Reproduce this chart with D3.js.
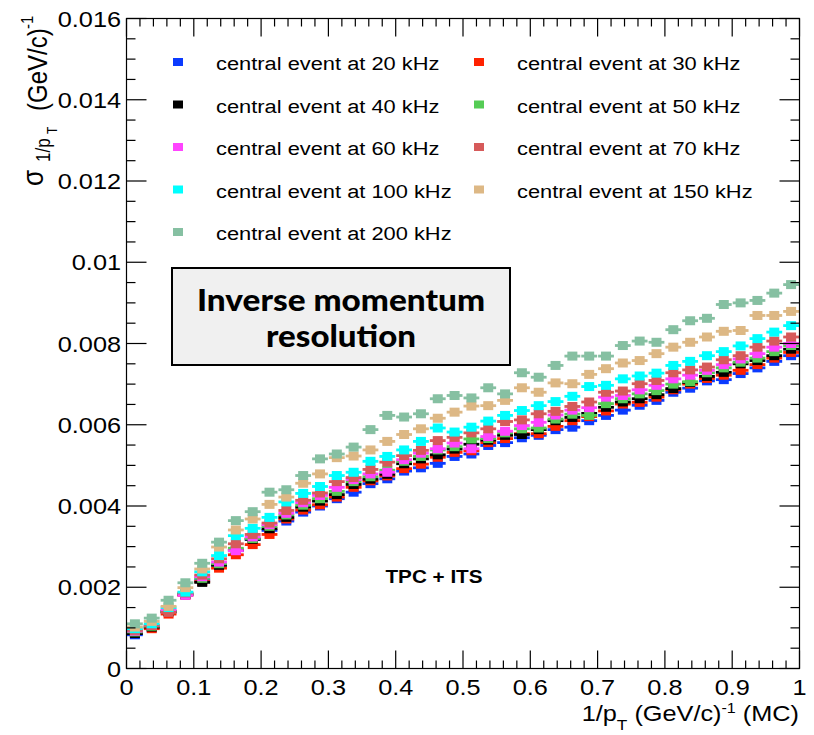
<!DOCTYPE html>
<html>
<head>
<meta charset="utf-8">
<script src="https://cdn.jsdelivr.net/npm/d3@7"></script>
<style>
  body { margin: 0; background: #ffffff; }
  svg text { font-family: "Liberation Sans", Arial, Helvetica, sans-serif; }
  svg text.box { font-family: Lato, "Open Sans", sans-serif; font-weight: 900; }
</style>
</head>
<body>
<svg id="chart" width="814" height="735"></svg>
<script>
// 1/pT bins (GeV/c)^-1: 40 bins of width 0.025
const binCenters = [0.0125,0.0375,0.0625,0.0875,0.1125,0.1375,0.1625,0.1875,0.2125,0.2375,
  0.2625,0.2875,0.3125,0.3375,0.3625,0.3875,0.4125,0.4375,0.4625,0.4875,
  0.5125,0.5375,0.5625,0.5875,0.6125,0.6375,0.6625,0.6875,0.7125,0.7375,
  0.7625,0.7875,0.8125,0.8375,0.8625,0.8875,0.9125,0.9375,0.9625,0.9875];
const binHalfWidth = 0.0125;

// sigma(1/pT) per interaction rate
const rate20  = [0.00083,0.00100,0.00140,0.00182,0.00218,0.00255,0.00290,0.00318,0.00340,0.00363,0.00385,0.00400,0.00418,0.00434,0.00455,0.00467,0.00486,0.00494,0.00505,0.00522,0.00528,0.00549,0.00556,0.00568,0.00574,0.00588,0.00594,0.00610,0.00623,0.00636,0.00648,0.00660,0.00680,0.00690,0.00708,0.00711,0.00726,0.00740,0.00756,0.00770];
const rate30  = [0.00088,0.00098,0.00134,0.00180,0.00214,0.00247,0.00280,0.00305,0.00330,0.00368,0.00390,0.00403,0.00422,0.00446,0.00462,0.00474,0.00492,0.00503,0.00520,0.00532,0.00536,0.00556,0.00566,0.00578,0.00578,0.00596,0.00610,0.00620,0.00634,0.00651,0.00655,0.00668,0.00686,0.00700,0.00714,0.00722,0.00734,0.00748,0.00764,0.00778];
const rate40  = [0.00086,0.00102,0.00140,0.00183,0.00212,0.00254,0.00292,0.00318,0.00344,0.00372,0.00397,0.00412,0.00428,0.00453,0.00466,0.00478,0.00504,0.00516,0.00526,0.00540,0.00552,0.00562,0.00574,0.00576,0.00588,0.00610,0.00618,0.00628,0.00643,0.00656,0.00664,0.00674,0.00689,0.00704,0.00719,0.00729,0.00750,0.00758,0.00770,0.00786];
const rate50  = [0.00090,0.00104,0.00142,0.00184,0.00222,0.00258,0.00296,0.00320,0.00350,0.00378,0.00402,0.00418,0.00436,0.00460,0.00472,0.00488,0.00510,0.00522,0.00538,0.00546,0.00565,0.00566,0.00580,0.00590,0.00592,0.00614,0.00626,0.00623,0.00652,0.00664,0.00676,0.00684,0.00700,0.00706,0.00728,0.00740,0.00754,0.00764,0.00780,0.00795];
const rate60  = [0.00092,0.00106,0.00145,0.00180,0.00226,0.00262,0.00290,0.00324,0.00354,0.00382,0.00408,0.00426,0.00446,0.00465,0.00479,0.00483,0.00514,0.00530,0.00541,0.00555,0.00541,0.00571,0.00584,0.00598,0.00606,0.00624,0.00636,0.00642,0.00668,0.00672,0.00686,0.00697,0.00713,0.00722,0.00734,0.00748,0.00762,0.00775,0.00791,0.00800];
const rate70  = [0.00094,0.00106,0.00138,0.00186,0.00230,0.00270,0.00307,0.00330,0.00358,0.00389,0.00414,0.00432,0.00460,0.00470,0.00490,0.00508,0.00524,0.00537,0.00561,0.00569,0.00580,0.00590,0.00608,0.00612,0.00627,0.00633,0.00645,0.00656,0.00680,0.00683,0.00701,0.00709,0.00728,0.00735,0.00742,0.00760,0.00770,0.00791,0.00806,0.00816];
const rate100 = [0.00098,0.00110,0.00150,0.00188,0.00238,0.00278,0.00327,0.00345,0.00372,0.00410,0.00431,0.00448,0.00475,0.00483,0.00510,0.00522,0.00538,0.00559,0.00592,0.00582,0.00594,0.00609,0.00623,0.00635,0.00647,0.00657,0.00670,0.00694,0.00697,0.00713,0.00720,0.00727,0.00746,0.00756,0.00770,0.00780,0.00794,0.00812,0.00828,0.00844];
const rate150 = [0.00102,0.00116,0.00153,0.00199,0.00245,0.00299,0.00341,0.00368,0.00404,0.00422,0.00456,0.00479,0.00519,0.00523,0.00538,0.00559,0.00576,0.00590,0.00616,0.00631,0.00646,0.00647,0.00660,0.00691,0.00680,0.00703,0.00701,0.00724,0.00738,0.00752,0.00758,0.00775,0.00791,0.00803,0.00816,0.00830,0.00832,0.00869,0.00869,0.00879];
const rate200 = [0.00110,0.00124,0.00168,0.00211,0.00259,0.00311,0.00364,0.00386,0.00434,0.00440,0.00475,0.00516,0.00528,0.00545,0.00588,0.00623,0.00619,0.00627,0.00664,0.00672,0.00666,0.00691,0.00676,0.00728,0.00717,0.00746,0.00769,0.00769,0.00769,0.00795,0.00806,0.00803,0.00834,0.00856,0.00862,0.00896,0.00900,0.00906,0.00924,0.00945];

const seriesNames = ["central event at 20 kHz","central event at 30 kHz","central event at 40 kHz",
  "central event at 50 kHz","central event at 60 kHz","central event at 70 kHz",
  "central event at 100 kHz","central event at 150 kHz","central event at 200 kHz"];
const seriesValues = [rate20, rate30, rate40, rate50, rate60, rate70, rate100, rate150, rate200];
const seriesColors = ["#0b3bff","#ff2200","#000000","#55cc55","#ff44ff","#d65a5a","#00ffff","#ddb885","#86c0a2"];

const xTickLabels = ["0","0.1","0.2","0.3","0.4","0.5","0.6","0.7","0.8","0.9","1"];
const yTickLabels = ["0","0.002","0.004","0.006","0.008","0.01","0.012","0.014","0.016"];

const svg = d3.select("#chart");
const frame = { left: 126.5, right: 799.5, top: 18.5, bottom: 668.5 };
const SX = 1.15; // horizontal glyph stretch of the ROOT-style lettering

const x = d3.scaleLinear().domain([0, 1]).range([frame.left, frame.right]);
const y = d3.scaleLinear().domain([0, 0.016]).range([frame.bottom, frame.top]);

// helper: text stretched horizontally around its anchor point
function label(px, py, str, opts = {}) {
  const g = svg.append("g").attr("transform", `translate(${px},${py}) scale(${SX},1)`);
  const t = g.append("text")
    .attr("text-anchor", opts.anchor || "start")
    .attr("font-size", opts.size || 21)
    .attr("font-weight", opts.weight || "normal")
    .attr("fill", "#000")
    .text(str);
  return t;
}

// ----- data markers -----
const plot = svg.append("g");
seriesValues.forEach((vals, si) => {
  const col = seriesColors[si];
  const g = plot.append("g");
  g.selectAll("line.eb").data(vals).join("line")
    .attr("x1", (d, i) => x(binCenters[i] - binHalfWidth) + 0.5)
    .attr("x2", (d, i) => x(binCenters[i] + binHalfWidth) - 0.5)
    .attr("y1", d => y(d)).attr("y2", d => y(d))
    .attr("stroke", col).attr("stroke-width", 2.8);
  g.selectAll("rect").data(vals).join("rect")
    .attr("x", (d, i) => x(binCenters[i]) - 5)
    .attr("y", d => y(d) - 4.5)
    .attr("width", 10).attr("height", 9)
    .attr("fill", col);
});

// ----- frame and ticks -----
const axes = svg.append("g").attr("stroke", "#000").attr("stroke-width", 1.2);
axes.append("rect")
  .attr("x", frame.left).attr("y", frame.top)
  .attr("width", frame.right - frame.left).attr("height", frame.bottom - frame.top)
  .attr("fill", "none");

const xMajor = d3.range(0, 11).map(i => i / 10);
const xMinor = d3.range(0, 51).map(i => i / 50);
const yMajor = d3.range(0, 9).map(i => i * 0.002);
const yMinor = d3.range(0, 33).map(i => i * 0.0005);

xMinor.forEach(v => {
  const major = Math.abs(v * 10 - Math.round(v * 10)) < 1e-6;
  const len = major ? 18 : 8;
  axes.append("line").attr("x1", x(v)).attr("x2", x(v))
    .attr("y1", frame.bottom).attr("y2", frame.bottom - len);
  axes.append("line").attr("x1", x(v)).attr("x2", x(v))
    .attr("y1", frame.top).attr("y2", frame.top + len);
});
yMinor.forEach(v => {
  const major = Math.abs(v / 0.002 - Math.round(v / 0.002)) < 1e-6;
  const len = major ? 20 : 9;
  axes.append("line").attr("y1", y(v)).attr("y2", y(v))
    .attr("x1", frame.left).attr("x2", frame.left + len);
  axes.append("line").attr("y1", y(v)).attr("y2", y(v))
    .attr("x1", frame.right).attr("x2", frame.right - len);
});

// tick labels
xMajor.forEach((v, i) => label(x(v), 695, xTickLabels[i], { anchor: "middle", size: 22 }));
yMajor.forEach((v, i) => label(121, y(v) + 8, yTickLabels[i], { anchor: "end", size: 22 }));

// ----- axis titles -----
// x title: 1/p_T (GeV/c)^-1 (MC)
{
  const g = svg.append("g").attr("transform", `translate(799,721) scale(${SX},1)`);
  const t = g.append("text").attr("text-anchor", "end").attr("font-size", 22).attr("fill", "#000");
  t.append("tspan").text("1/p");
  t.append("tspan").attr("font-size", 15).attr("dy", 9).text("T");
  t.append("tspan").attr("dy", -9).text(" (GeV/c)");
  t.append("tspan").attr("font-size", 14).attr("dy", -8).text("-1");
  t.append("tspan").attr("dy", 8).text(" (MC)");
}
// y title: sigma_{1/p_T} (GeV/c)^-1, rotated
{
  const g = svg.append("g").attr("transform", `scale(${SX},1) rotate(-90)`);
  const t = g.append("text").attr("fill", "#000");
  t.append("tspan").attr("x", -186).attr("y", 43 / SX).attr("font-size", 26).text("σ");
  t.append("tspan").attr("x", -162).attr("y", 50 / SX).attr("font-size", 17).text("1/p");
  t.append("tspan").attr("x", -134).attr("y", 57 / SX).attr("font-size", 12).text("T");
  t.append("tspan").attr("x", -111).attr("y", 47 / SX).attr("font-size", 24).text("(GeV/c)");
  t.append("tspan").attr("x", -29).attr("y", 33 / SX).attr("font-size", 15).text("-1");
}

// ----- legend -----
const legendCols = [{ mx: 178, tx: 216 }, { mx: 479, tx: 517 }];
const legendRows = [62, 104.5, 147, 189.5, 232];
const legendPos = [[0,0],[1,0],[0,1],[1,1],[0,2],[1,2],[0,3],[1,3],[0,4]];
seriesNames.forEach((name, si) => {
  const [c, r] = legendPos[si];
  const ly = legendRows[r];
  svg.append("rect")
    .attr("x", legendCols[c].mx - 5).attr("y", ly - 4)
    .attr("width", 10).attr("height", 8)
    .attr("fill", seriesColors[si]);
  label(legendCols[c].tx, ly + 8, name, { size: 19 });
});

// ----- annotation box -----
svg.append("rect")
  .attr("x", 172).attr("y", 268).attr("width", 338).attr("height", 97)
  .attr("fill", "#f0f0f0").attr("stroke", "#000").attr("stroke-width", 2);
svg.append("text").attr("class", "box").attr("x", 341).attr("y", 311)
  .attr("text-anchor", "middle").attr("font-size", 30)
  .attr("textLength", 288).attr("lengthAdjust", "spacingAndGlyphs")
  .text("Inverse momentum");
svg.append("text").attr("class", "box").attr("x", 341).attr("y", 347)
  .attr("text-anchor", "middle").attr("font-size", 30)
  .attr("textLength", 150).attr("lengthAdjust", "spacingAndGlyphs")
  .text("resolution");

// ----- tracking label -----
label(434, 583, "TPC + ITS", { anchor: "middle", size: 18, weight: "bold" });
</script>
</body>
</html>
